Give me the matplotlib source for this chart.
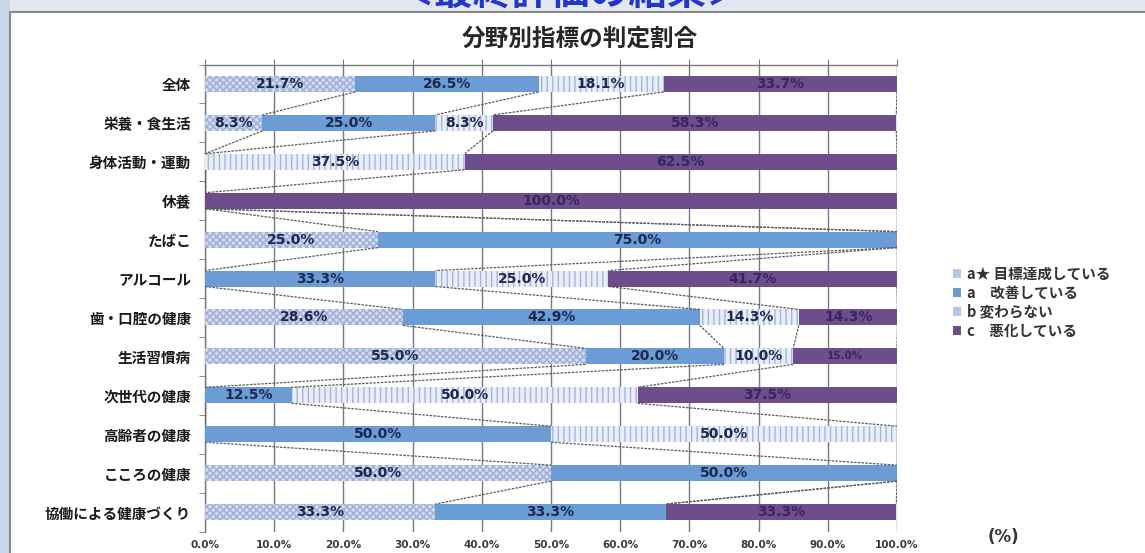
import matplotlib
matplotlib.use("Agg")
import matplotlib.pyplot as plt
from matplotlib.patches import Rectangle, Patch
import numpy as np

plt.rcParams['font.family'] = ['Noto Sans CJK JP', 'DejaVu Sans']
plt.rcParams['hatch.linewidth'] = 1.0

# ---- data -------------------------------------------------------------
categories = ['全体', '栄養・食生活', '身体活動・運動', '休養', 'たばこ', 'アルコール',
              '歯・口腔の健康', '生活習慣病', '次世代の健康', '高齢者の健康',
              'こころの健康', '協働による健康づくり']
a_star = [21.7, 8.3, 0.0, 0.0, 25.0, 0.0, 28.6, 55.0, 0.0, 0.0, 50.0, 33.3]
a_improved = [26.5, 25.0, 0.0, 0.0, 75.0, 33.3, 42.9, 20.0, 12.5, 50.0, 50.0, 33.3]
b_unchanged = [18.1, 8.3, 37.5, 0.0, 0.0, 25.0, 14.3, 10.0, 50.0, 50.0, 0.0, 0.0]
c_worse = [33.7, 58.3, 62.5, 100.0, 0.0, 41.7, 14.3, 15.0, 37.5, 0.0, 0.0, 33.3]
series_labels = ['a★ 目標達成している', 'a　改善している', 'b 変わらない', 'c　悪化している']
x_ticks = [0, 10, 20, 30, 40, 50, 60, 70, 80, 90, 100]
x_tick_labels = [f'{t:.1f}%' for t in x_ticks]
chart_title = '分野別指標の判定割合'
page_heading = '＜最終評価の結果＞'

# ---- styles -----------------------------------------------------------
styles = [
    dict(facecolor='#d3dbee', edgecolor='#9dadd6', hatch='xxxxx'),
    dict(facecolor='#6c9cd6', edgecolor='#6c9cd6', hatch=None),
    dict(facecolor='#eaeef8', edgecolor='#a3b4dc', hatch='|||'),
    dict(facecolor='#6e4d8d', edgecolor='#6e4d8d', hatch=None),
]
legend_colors = ['#b9c6e4', '#6c9cd6', '#b9c6e4', '#6e4d8d']
text_colors = ['#1c284e', '#1c284e', '#1c284e', '#38255a']

W, H = 1145, 553
fig = plt.figure(figsize=(W / 100, H / 100), dpi=100)
fig.patch.set_facecolor('#e2e7ef')

# page background: left bluish strip and white chart panel
fig.patches.append(Rectangle((0, 0), 10 / W, 1, transform=fig.transFigure,
                             facecolor='#c9d5e8', edgecolor='none', zorder=0))
fig.patches.append(Rectangle((10 / W, -0.01), 1.0, 1 - 12 / H + 0.01,
                             transform=fig.transFigure, facecolor='white',
                             edgecolor='#8a8a8a', linewidth=1.5, zorder=1))

ax = fig.add_axes([205 / W, 1 - 531.5 / H, 692 / W, 467 / H])
ax.set_facecolor('white')
ax.set_zorder(2)

series = [a_star, a_improved, b_unchanged, c_worse]
n = len(categories)
y = np.arange(n)
bar_h = 0.41
left = np.zeros(n)
cum_ends = []
for k, vals in enumerate(series):
    vals = np.array(vals)
    ax.barh(y, vals, left=left, height=bar_h, linewidth=0, zorder=3, **styles[k])
    for i, v in enumerate(vals):
        if v > 0:
            fs = 7.5 if (k == 3 and categories[i] == '生活習慣病') else 10
            ax.text(left[i] + v / 2, y[i], f'{v:.1f}%', ha='center', va='center',
                    fontsize=fs, fontweight='bold', color=text_colors[k],
                    family='DejaVu Sans', zorder=5)
    left = left + vals
    cum_ends.append(left.copy())

# series lines joining the segment ends of neighbouring bars
for ends in cum_ends:
    for i in range(n - 1):
        ax.plot([ends[i], ends[i + 1]], [y[i] + bar_h / 2, y[i + 1] - bar_h / 2],
                color='#5a5a5a', linewidth=0.9, linestyle=(0, (2.0, 1.0)), zorder=4)

ax.set_xlim(0, 100)
ax.set_ylim(n - 0.5, -0.5)
ax.set_xticks(x_ticks)
ax.set_xticklabels(x_tick_labels, fontsize=7.5, fontweight='bold', color='#3a3a3a',
                   family='DejaVu Sans')
ax.tick_params(axis='x', top=True, bottom=False, labeltop=False, labelbottom=True,
               direction='out', length=4, color='#7a7a7a', pad=2)
ax.set_yticks(y)
ax.set_yticklabels(categories, fontsize=10.5, fontweight='bold', color='#1a1a1a')
ax.tick_params(axis='y', length=0, pad=10)
ax.set_yticks(np.arange(n + 1) - 0.5, minor=True)
ax.tick_params(axis='y', which='minor', length=4, direction='out', color='#7a7a7a')
ax.grid(axis='x', color='#7a7a7a', linewidth=1.0, zorder=0)
ax.set_axisbelow(True)
for side in ['right', 'bottom']:
    ax.spines[side].set_visible(False)
for side in ['left', 'top']:
    ax.spines[side].set_color('#7a7a7a')
    ax.spines[side].set_linewidth(1.0)

# titles
fig.text(580 / W, 1 - 39 / H, chart_title, ha='center', va='center',
         fontsize=17, fontweight='bold', color='#262626', zorder=6)
fig.text(570 / W, 1 + 7 / H, page_heading, ha='center', va='center',
         fontsize=28, fontweight='bold', color='#2236cc', zorder=6)
fig.text(1003 / W, 1 - 537 / H, '(%)', ha='center', va='center',
         fontsize=12, fontweight='bold', color='#333333', family='DejaVu Sans', zorder=6)

# legend
handles = [Patch(facecolor=c, edgecolor='none') for c in legend_colors]
leg = fig.legend(handles, series_labels, loc='center left',
                 bbox_to_anchor=(940 / W, 1 - 302 / H), frameon=False,
                 handlelength=0.55, handleheight=0.55, handletextpad=0.4,
                 labelspacing=0.2, prop=dict(size=10.5, weight='bold'))
for t in leg.get_texts():
    t.set_color('#333333')

fig.savefig('out.png', dpi=100, facecolor=fig.get_facecolor())
